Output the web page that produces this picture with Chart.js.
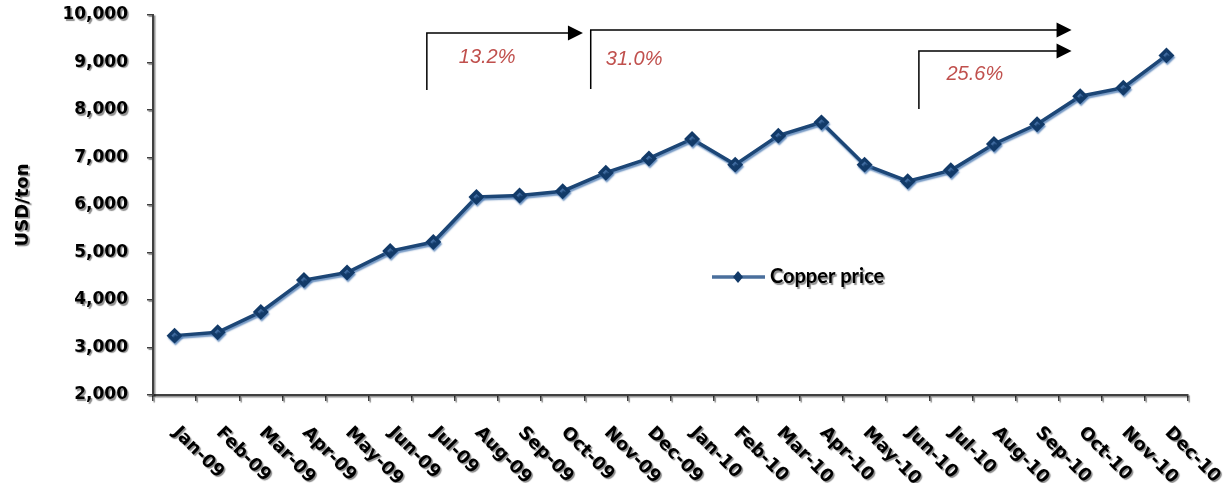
<!DOCTYPE html>
<html>
<head>
<meta charset="utf-8">
<script src="https://cdn.jsdelivr.net/npm/chart.js@4"></script>
<style>
  html, body { margin: 0; padding: 0; background: #fff; }
  #wrap { width: 1226px; height: 483px; }
</style>
</head>
<body>
<div id="wrap"><canvas id="myChart"></canvas></div>
<script>
  var months = ['Jan-09', 'Feb-09', 'Mar-09', 'Apr-09', 'May-09', 'Jun-09', 'Jul-09', 'Aug-09',
    'Sep-09', 'Oct-09', 'Nov-09', 'Dec-09', 'Jan-10', 'Feb-10', 'Mar-10', 'Apr-10', 'May-10',
    'Jun-10', 'Jul-10', 'Aug-10', 'Sep-10', 'Oct-10', 'Nov-10', 'Dec-10'];
  var copperPrice = [3250, 3320, 3750, 4420, 4580, 5030, 5220, 6170, 6200, 6290, 6680, 6980,
    7390, 6850, 7460, 7740, 6850, 6500, 6730, 7285, 7700, 8290, 8470, 9150];
  var yMin = 2000;
  var yMax = 10000;
  var yStep = 1000;
  var changeLabels = ['13.2%', '31.0%', '25.6%'];

  // bracket arrows: x in category units, y in USD/ton
  var brackets = [
    { from: 5.85, to: 9.47, top: 9620, bottom: 8420 },
    { from: 9.65, to: 20.8, top: 9685, bottom: 8440 },
    { from: 17.26, to: 20.8, top: 9240, bottom: 8020 }
  ];
  var labelSpots = [
    { x: 6.59, y: 9116 },
    { x: 10.0, y: 9074 },
    { x: 17.9, y: 8758 }
  ];

  var tickFont = 'bold 18px "DejaVu Sans"';

  function setTextShadow(ctx) {
    ctx.shadowColor = 'rgba(0,0,0,0.45)';
    ctx.shadowOffsetX = 1.5;
    ctx.shadowOffsetY = 1.5;
    ctx.shadowBlur = 1;
  }

  var decorPlugin = {
    id: 'decor',
    beforeDraw: function (chart) {
      var ctx = chart.ctx;
      ctx.save();
      setTextShadow(ctx);
    },
    beforeDatasetsDraw: function (chart) {
      var ctx = chart.ctx;
      ctx.restore();
      ctx.save();
      ctx.shadowColor = 'rgba(80,125,180,0.8)';
      ctx.shadowOffsetX = 1;
      ctx.shadowOffsetY = 2;
      ctx.shadowBlur = 1.5;
    },
    afterDatasetsDraw: function (chart) {
      chart.ctx.restore();
    },
    afterDraw: function (chart) {
      var ctx = chart.ctx;
      var xs = chart.scales.x;
      var ys = chart.scales.y;

      // slanted month labels
      ctx.save();
      setTextShadow(ctx);
      ctx.font = tickFont;
      ctx.fillStyle = '#000';
      ctx.textAlign = 'left';
      ctx.textBaseline = 'middle';
      months.forEach(function (m, i) {
        ctx.save();
        ctx.translate(xs.getPixelForValue(i) + 1, xs.top + 35);
        ctx.rotate(Math.PI / 4);
        ctx.fillText(m, 0, 0);
        ctx.restore();
      });
      ctx.restore();

      // legend inside the plot
      var ds = chart.data.datasets[0];
      ctx.save();
      ctx.strokeStyle = '#4a6f9c';
      ctx.lineWidth = 3.5;
      ctx.beginPath();
      ctx.moveTo(712, 277);
      ctx.lineTo(765, 277);
      ctx.stroke();
      ctx.fillStyle = ds.pointBackgroundColor;
      ctx.beginPath();
      ctx.moveTo(738, 271);
      ctx.lineTo(743, 277);
      ctx.lineTo(738, 283);
      ctx.lineTo(733, 277);
      ctx.closePath();
      ctx.fill();
      setTextShadow(ctx);
      ctx.fillStyle = '#000';
      ctx.font = 'bold 20px Lato';
      ctx.textAlign = 'left';
      ctx.textBaseline = 'middle';
      ctx.fillText(ds.label, 770, 277);
      ctx.restore();

      // change brackets
      ctx.save();
      ctx.strokeStyle = '#000';
      ctx.fillStyle = '#000';
      ctx.lineWidth = 1.5;
      brackets.forEach(function (b) {
        var x0 = xs.getPixelForValue(b.from);
        var x1 = xs.getPixelForValue(b.to);
        var yt = ys.getPixelForValue(b.top);
        var yb = ys.getPixelForValue(b.bottom);
        ctx.beginPath();
        ctx.moveTo(x0, yb);
        ctx.lineTo(x0, yt);
        ctx.lineTo(x1 - 14, yt);
        ctx.stroke();
        ctx.beginPath();
        ctx.moveTo(x1, yt);
        ctx.lineTo(x1 - 15, yt - 7.5);
        ctx.lineTo(x1 - 15, yt + 7.5);
        ctx.closePath();
        ctx.fill();
      });
      ctx.fillStyle = '#c0504d';
      ctx.font = 'italic 20px "Liberation Sans"';
      ctx.textAlign = 'left';
      ctx.textBaseline = 'middle';
      labelSpots.forEach(function (p, i) {
        ctx.fillText(changeLabels[i], xs.getPixelForValue(p.x), ys.getPixelForValue(p.y));
      });
      ctx.restore();
    }
  };

  var lineChart = new Chart('myChart', {
    type: 'line',
    data: {
      labels: months,
      datasets: [{
        label: 'Copper price',
        data: copperPrice,
        borderColor: '#1c4676',
        borderWidth: 3.5,
        pointStyle: 'rectRot',
        pointRadius: 5.5,
        pointBackgroundColor: '#123a68',
        pointBorderColor: '#123a68',
        tension: 0
      }]
    },
    options: {
      responsive: true,
      maintainAspectRatio: false,
      animation: false,
      layout: { padding: { left: 0, top: 15, right: 38, bottom: 0 } },
      plugins: {
        legend: { display: false },
        tooltip: { enabled: false }
      },
      scales: {
        x: {
          offset: true,
          grid: {
            offset: true,
            drawOnChartArea: false,
            drawTicks: true,
            tickLength: 6,
            color: '#404040',
            lineWidth: 1.5
          },
          border: { color: '#404040', width: 2 },
          ticks: { display: false, autoSkip: false },
          afterFit: function (scale) { scale.height = 88; }
        },
        y: {
          min: yMin,
          max: yMax,
          grid: {
            drawOnChartArea: false,
            tickLength: 6,
            color: '#404040',
            lineWidth: 1.5
          },
          border: { color: '#404040', width: 2 },
          ticks: {
            stepSize: yStep,
            padding: 19,
            color: '#000',
            font: { family: 'DejaVu Sans', size: 17, weight: 'bold' },
            callback: function (v) { return v.toLocaleString('en-US'); }
          },
          title: {
            display: true,
            text: 'USD/ton',
            color: '#000',
            font: { family: 'DejaVu Sans', size: 18, weight: 'bold' },
            padding: { top: 13, bottom: 0 }
          },
          afterFit: function (scale) {
            scale.width = 153;
            scale.paddingTop = 0;
            scale.paddingBottom = 0;
          }
        }
      }
    },
    plugins: [decorPlugin]
  });
</script>
</body>
</html>
